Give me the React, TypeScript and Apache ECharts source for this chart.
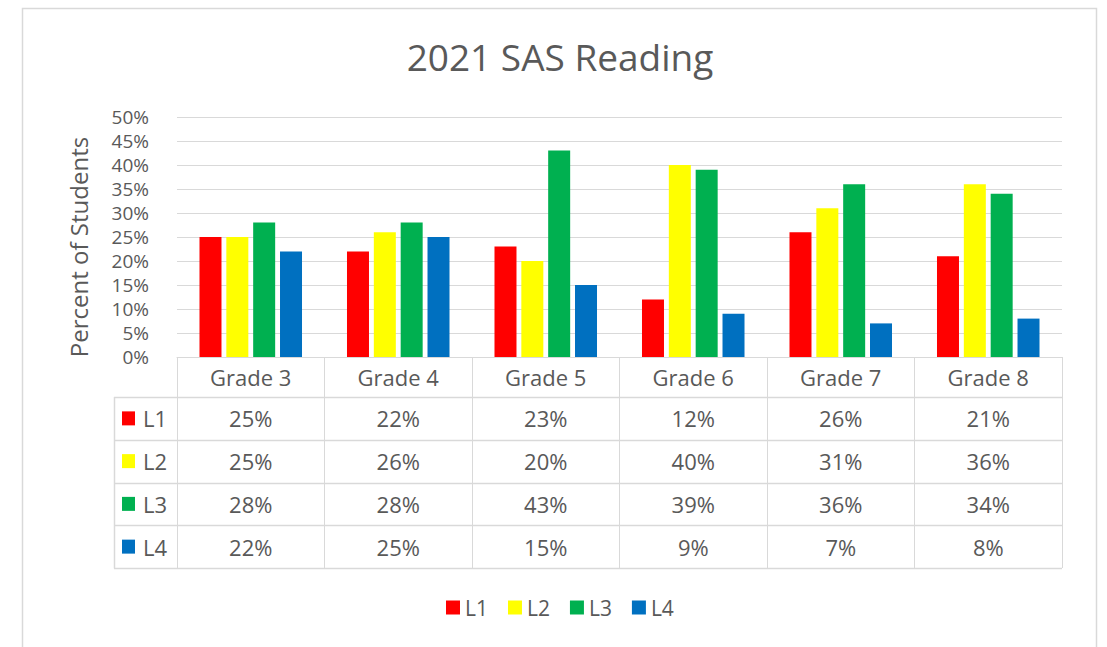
import React, { useEffect, useRef } from "react";
import * as echarts from "echarts";

const categories = ["Grade 3", "Grade 4", "Grade 5", "Grade 6", "Grade 7", "Grade 8"];
const seriesNames = ["L1", "L2", "L3", "L4"];
const L1 = [25, 22, 23, 12, 26, 21];
const L2 = [25, 26, 20, 40, 31, 36];
const L3 = [28, 28, 43, 39, 36, 34];
const L4 = [22, 25, 15, 9, 7, 8];
const colors = ["#FF0000", "#FFFF00", "#00B050", "#0070C0"];
const yMin = 0;
const yMax = 50;
const yInterval = 5;

const FONT = "'Open Sans', 'Noto Sans', sans-serif";
const TXT = "#595959";
const LINE = "#D9D9D9";

export default function App() {
  const ref = useRef<HTMLDivElement>(null);
  useEffect(() => {
    const chart = echarts.init(ref.current!, null, { renderer: "svg" });
    const seriesData = [L1, L2, L3, L4];
    const gridLeft = 177;
    const gridRight = 1062;
    const gridTop = 117;
    const gridBottom = 357;
    const rowTop = 397;
    const rowH = 42.75;
    const tableLeft = 114;
    chart.setOption({
      animation: false,
      textStyle: { fontFamily: FONT },
      title: {
        text: "2021 SAS Reading",
        left: 555,
        top: 33,
        textAlign: "center",
        textStyle: { fontSize: 37, fontWeight: "normal", color: TXT, fontFamily: FONT },
      },
      legend: {
        left: 446,
        top: 597,
        padding: 0,
        itemWidth: 14,
        itemHeight: 14,
        itemGap: 20,
        icon: "rect",
        textStyle: { fontSize: 21, color: TXT, fontFamily: FONT },
        data: seriesNames,
      },
      grid: {
        left: gridLeft,
        right: 1107 - gridRight,
        top: gridTop,
        bottom: 647 - gridBottom,
        containLabel: false,
      },
      xAxis: {
        type: "category",
        data: categories,
        axisLine: { show: true, lineStyle: { color: LINE, width: 1 } },
        axisTick: {
          show: true,
          alignWithLabel: false,
          length: rowTop + 4 * rowH - gridBottom,
          lineStyle: { color: LINE, width: 1 },
        },
        axisLabel: {
          margin: 20,
          verticalAlign: "middle",
          fontSize: 22,
          color: TXT,
          fontFamily: FONT,
        },
      },
      yAxis: {
        type: "value",
        min: yMin,
        max: yMax,
        interval: yInterval,
        axisLine: { show: false },
        axisTick: { show: false },
        splitLine: { lineStyle: { color: LINE, width: 1 } },
        axisLabel: {
          margin: 28,
          fontSize: 19,
          lineHeight: 19,
          color: TXT,
          fontFamily: FONT,
          formatter: (v: number) => `${v}%`,
        },
      },
      series: seriesNames.map((n, i) => ({
        name: n,
        type: "bar",
        data: seriesData[i],
        barWidth: 22,
        barGap: "22%",
        itemStyle: { color: colors[i] },
      })),
    });

    const xs = categories.map((c) => chart.convertToPixel({ xAxisIndex: 0 }, c) as number);
    const g: any[] = [];
    g.push({
      type: "rect",
      shape: { x: 22.5, y: 8.5, width: 1074, height: 700 },
      style: { fill: "none", stroke: LINE, lineWidth: 1.5 },
      silent: true,
    });
    g.push({
      type: "text",
      x: 78,
      y: 247,
      rotation: Math.PI / 2,
      style: {
        text: "Percent of Students",
        fontSize: 24,
        fill: TXT,
        fontFamily: FONT,
        align: "center",
        verticalAlign: "middle",
      },
    });
    for (let k = 0; k <= 4; k++) {
      const y = Math.round(rowTop + k * rowH) + 0.5;
      g.push({
        type: "line",
        shape: { x1: tableLeft, y1: y, x2: gridRight, y2: y },
        style: { stroke: LINE, lineWidth: 1.5 },
      });
    }
    g.push({
      type: "line",
      shape: { x1: tableLeft + 0.5, y1: rowTop, x2: tableLeft + 0.5, y2: Math.round(rowTop + 4 * rowH) + 0.5 },
      style: { stroke: LINE, lineWidth: 1.5 },
    });
    seriesNames.forEach((n, r) => {
      const cy = rowTop + r * rowH + rowH / 2;
      g.push({
        type: "rect",
        shape: { x: 122, y: cy - 7, width: 13, height: 14 },
        style: { fill: colors[r] },
      });
      g.push({
        type: "text",
        x: 143,
        y: cy,
        style: { text: n, fontSize: 22, fill: TXT, fontFamily: FONT, align: "left", verticalAlign: "middle" },
      });
      seriesData[r].forEach((v, c) => {
        g.push({
          type: "text",
          x: xs[c],
          y: cy,
          style: {
            text: `${v}%`,
            fontSize: 22,
            fill: TXT,
            fontFamily: FONT,
            align: "center",
            verticalAlign: "middle",
          },
        });
      });
    });
    chart.setOption({ graphic: g });
    return () => chart.dispose();
  }, []);
  return (
    <div
      ref={ref}
      style={{ position: "fixed", left: 0, top: 0, width: 1107, height: 647, background: "#fff" }}
    />
  );
}
